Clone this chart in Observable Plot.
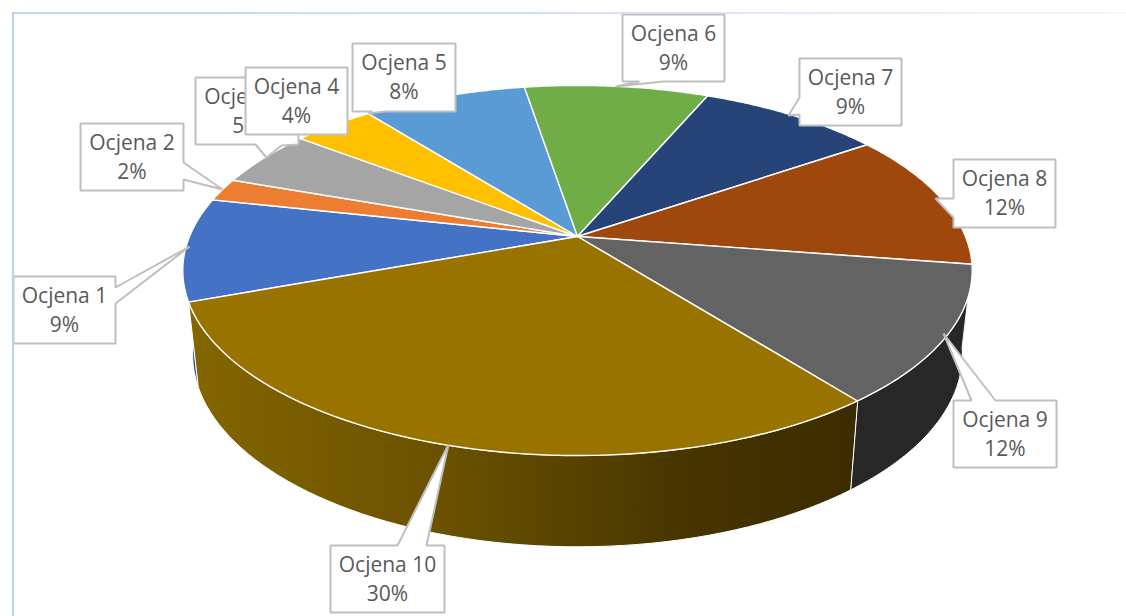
<!DOCTYPE html>
<html lang="pl">
<head>
<meta charset="utf-8">
<style>html,body{margin:0;padding:0;background:#fff;overflow:hidden}svg{display:block}</style>
<script src="https://cdn.jsdelivr.net/npm/d3@7"></script>
<script src="https://cdn.jsdelivr.net/npm/@observablehq/plot@0.6"></script>
</head>
<body>
<script>
// Data
const categories = ["Ocjena 1","Ocjena 2","Ocjena 3","Ocjena 4","Ocjena 5","Ocjena 6","Ocjena 7","Ocjena 8","Ocjena 9","Ocjena 10"];
const shares = [9,2,5,4,8,9,9,12,12,30];

// Styles
const topColors = ["#4472c4","#ed7d31","#a5a5a5","#ffc000","#5b9bd5","#70ad47","#264478","#9e480e","#636363","#997300"];
const sideColors = ["#2f5597","#a9561f","#6e6e6e","#a87f00","#3c6d9c","#4b7530","#172b4d","#632d09","#272727","url(#sideGold)"];

// Perspective disc layout
const cx = 577, cy = 236, rx = 388, ry = 178.8, persp = 0.1837;
const depthY = 82.5, depthScaleX = 0.975, depthScaleY = 1.04, startAngle = 249.9;
function project(angle, lower) {
  const a = angle * Math.PI / 180, u = Math.sin(a), v = -Math.cos(a);
  const w = 1 - persp * v;
  const sx = lower ? depthScaleX : 1, sy = lower ? depthScaleY : 1;
  return {x: cx + sx * rx * u / w, y: cy + (lower ? depthY : 0) + sy * ry * v / w};
}
let acc = startAngle;
const slices = categories.map((cat, i) => {
  const a0 = acc, a1 = acc + shares[i] * 3.6; acc = a1;
  return {cat, a0, a1, i};
});
const arc = (s) => d3.range(0, 61).map(k => s.a0 + (s.a1 - s.a0) * k / 60);
const topPoints = slices.flatMap(s => [
  {cat: s.cat, x: cx, y: cy},
  ...arc(s).map(a => ({cat: s.cat, ...project(a, false)}))
]);
const sidePoints = (s) => [
  ...arc(s).map(a => ({...project(a, false)})),
  ...arc(s).reverse().map(a => ({...project(a, true)}))
];
const sideOrder = [6,5,4,3,2,7,1,0,8,9];

// Callout layout: box [x0,y0,x1,y1] and outline pointer vertices
const boxes = [
  {b:[13,276,115,343], side:"r", t:[[115,287],[189,246],[115,303]]},
  {b:[80,123,183,190], side:"r", t:[[183,162],[222,189],[183,179]]},
  {b:[195,77,298,144], side:"b", t:[[298,144],[281,145],[266,157],[255,144]]},
  {b:[245,67,347,134], side:"b", t:[]},
  {b:[352,43,455,111], side:"b", t:[[385,111],[368,113],[372,111]]},
  {b:[622,14,724,81], side:"b", t:[[663,81],[615,86],[639,81]]},
  {b:[799,58,901,125], side:"l", t:[[799,114],[788,115],[799,97]]},
  {b:[953,159,1055,227], side:"l", t:[[953,217],[935,198],[953,198]]},
  {b:[953,400,1056,467], side:"t", t:[[971,400],[943,333],[995,400]]},
  {b:[330,545,444,612], side:"t", t:[[397,545],[448,444],[426,545]]}
];
function outline({b:[x0,y0,x1,y1], side, t}) {
  const pts = [];
  pts.push([x0,y0]);
  if (side === "t") pts.push(...t);
  pts.push([x1,y0]);
  if (side === "r") pts.push(...t);
  pts.push([x1,y1]);
  if (side === "b") pts.push(...t);
  pts.push([x0,y1]);
  if (side === "l") pts.push(...t);
  return pts;
}
const calloutPoints = boxes.flatMap((box, i) => outline(box).map(([x,y]) => ({x, y, cat: categories[i], i})));
const labelTable = boxes.map((box, i) => ({
  x: (box.b[0] + box.b[2]) / 2,
  y: box.b[1] + 32,
  label: `${categories[i]}\n${shares[i]}%`
}));

const gradient = () => {
  const defs = d3.create("svg:defs");
  const side = defs.append("linearGradient").attr("id","sideGold").attr("gradientUnits","userSpaceOnUse")
    .attr("x1",193).attr("x2",860).attr("y1",0).attr("y2",0);
  [[0,"#846600"],[0.2,"#755a00"],[0.38,"#6a5100"],[0.55,"#594400"],[0.72,"#483600"],[1,"#3b2c00"]]
    .forEach(([o,c]) => side.append("stop").attr("offset",o).attr("stop-color",c));
  const frame = defs.append("linearGradient").attr("id","frameTop").attr("gradientUnits","userSpaceOnUse")
    .attr("x1",12).attr("x2",1126).attr("y1",0).attr("y2",0);
  [[0,"#b4c7e7"],[0.45,"#c3d4ee"],[0.8,"#dfe8f6"],[1,"#f1f4fa"]]
    .forEach(([o,c]) => frame.append("stop").attr("offset",o).attr("stop-color",c));
  return defs.node();
};

const chart = Plot.plot({
  width: 1126, height: 616,
  margin: 0,
  style: {background: "#fff"},
  x: {domain: [0, 1126], range: [0, 1126], axis: null},
  y: {domain: [0, 616], range: [0, 616], axis: null},
  color: {domain: categories, range: topColors},
  marks: [
    gradient,
    ...sideOrder.map(i => Plot.line(sidePoints(slices[i]), {
      x: "x", y: "y", fill: sideColors[i], stroke: "#fff", strokeWidth: 1, curve: "linear-closed"
    })),
    Plot.line(topPoints, {
      x: "x", y: "y", z: "cat", fill: "cat", stroke: "#fff", strokeWidth: 1.4, curve: "linear-closed"
    }),
    ...boxes.map((b, i) => Plot.line(calloutPoints.filter(d => d.i === i), {
      x: "x", y: "y", fill: "#fff", stroke: "#bfbfbf", strokeWidth: 2, curve: "linear-closed", strokeLinejoin: "miter"
    })).flatMap((m, i) => [m, Plot.text([labelTable[i]], {
      x: "x", y: "y", text: "label", fill: "#595959",
      fontFamily: "'Open Sans', sans-serif", fontSize: 21, lineHeight: 1.38, textAnchor: "middle"
    })]),
    Plot.ruleX([12.5], {y1: 12, y2: 616, stroke: "#bccfec", strokeWidth: 2}),
    Plot.ruleY([12.5], {x1: 12, x2: 1126, stroke: "url(#frameTop)", strokeWidth: 1.5})
  ]
});
document.body.append(chart);
</script>
</body>
</html>
